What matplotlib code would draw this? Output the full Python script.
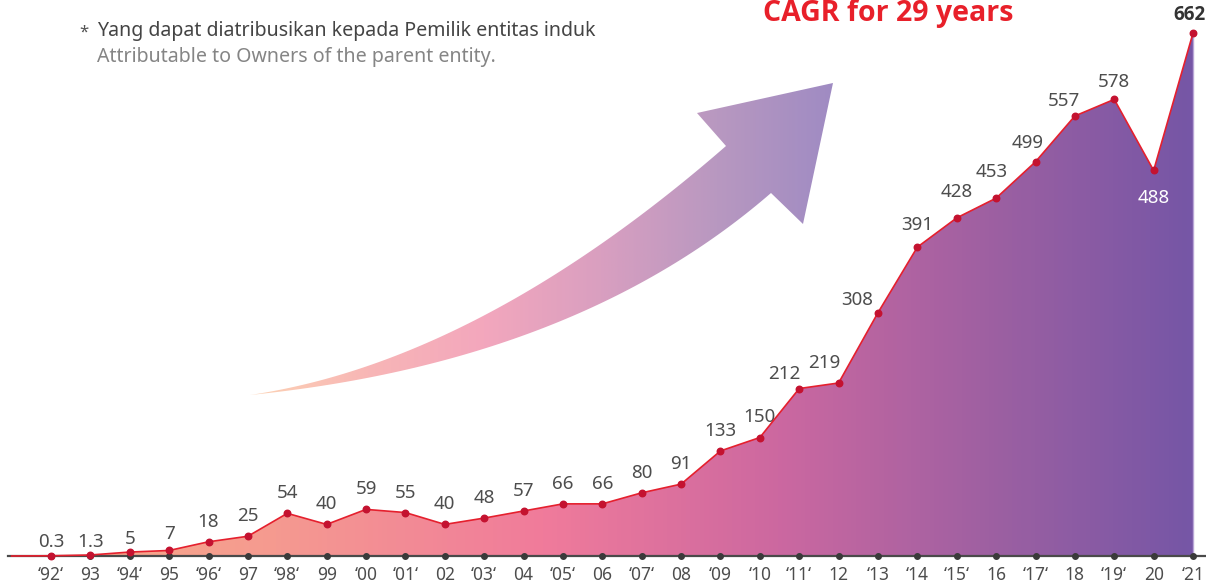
import numpy as np
import matplotlib.pyplot as plt
from matplotlib.colors import LinearSegmentedColormap
from matplotlib.patches import Polygon

plt.rcParams['font.family'] = ['Noto Sans', 'DejaVu Sans']

# data
years = ['‘92‘', '93', '‘94‘', '95', '‘96‘', '97', '‘98‘', '99', '‘00', '‘01‘',
         '02', '‘03‘', '04', '‘05‘', '06', '‘07‘', '08', '‘09', '‘10', '‘11‘',
         '12', '‘13', '‘14', '‘15‘', '16', '‘17‘', '18', '‘19‘', '20', '‘21']
values = [0.3, 1.3, 5, 7, 18, 25, 54, 40, 59, 55,
          40, 48, 57, 66, 66, 80, 91, 133, 150, 212,
          219, 308, 391, 428, 453, 499, 557, 578, 488, 662]
value_labels = ['0.3', '1.3', '5', '7', '18', '25', '54', '40', '59', '55',
                '40', '48', '57', '66', '66', '80', '91', '133', '150', '212',
                '219', '308', '391', '428', '453', '499', '557', '578', '488', '662']

# label nudges (pixels) for crowded spots
nudge = {0: (0, 14), 1: (0, 13), 2: (0, 13), 3: (0, 16), 19: (-15, 15), 20: (-14, 20),
         21: (-21, 13), 22: (0, 22), 23: (0, 26), 24: (-4, 26), 25: (-8, 19),
         26: (-11, 15), 27: (0, 17), 28: (0, -28), 29: (-4, 18)}

x = np.arange(len(values))
vals = np.array(values)

PX_PER_UNIT = 0.79
BASE_PX = 556

fig = plt.figure(figsize=(12.06, 5.84), dpi=100)

# decoration layer in pixel coords (big arrow + notes)
deco = fig.add_axes([0, 0, 1, 1])
deco.set_xlim(0, 1206)
deco.set_ylim(584, 0)
deco.axis('off')

def bez(p0, c, p2, n=80):
    t = np.linspace(0, 1, n)[:, None]
    return (1 - t) ** 2 * np.array(p0) + 2 * (1 - t) * t * np.array(c) + t ** 2 * np.array(p2)

upper = bez((250, 395), (479, 361), (726, 146))
lower = bez((250, 395), (576, 362), (771, 193))
head = np.array([[726, 146], [697, 113], [833, 83], [803, 224], [771, 193]])
arrow_pts = np.vstack([upper, head, lower[::-1]])
arrow_patch = Polygon(arrow_pts, closed=True, facecolor='none', edgecolor='none')
deco.add_patch(arrow_patch)
arrow_cmap = LinearSegmentedColormap.from_list(
    'arrow', ['#fdd3b4', '#f8b6b6', '#f3a7bd', '#d99fc0', '#b898c0', '#9f8bc3'])
grad = np.linspace(0, 1, 256)[None, :]
im = deco.imshow(grad, cmap=arrow_cmap, extent=(250, 835, 400, 80), aspect='auto', interpolation='bilinear')
im.set_clip_path(arrow_patch)

deco.text(79, 33, '*', fontsize=12, color='#555555', ha='left', va='center')
deco.text(97, 31, 'Yang dapat diatribusikan kepada Pemilik entitas induk',
          fontsize=14.1, color='#444444', ha='left', va='center')
deco.text(97, 57, 'Attributable to Owners of the parent entity.',
          fontsize=14.1, color='#858585', ha='left', va='center')
deco.text(888, 14, 'CAGR for 29 years', fontsize=20.5, color='#e8202a',
          fontweight='bold', family=['Open Sans', 'DejaVu Sans'], ha='center', va='center')

# data layer
ax = fig.add_axes([0, 0, 1, 1])
ax.patch.set_alpha(0)
ax.set_xlim(-51 / 39.38, (1206 - 51) / 39.38)
ax.set_ylim(-(584 - BASE_PX) / PX_PER_UNIT, BASE_PX / PX_PER_UNIT)
ax.axis('off')

# gradient area under the line
fx = np.concatenate([[-1], x, [x[-1]]])
fy = np.concatenate([[0], vals, [0]])
area = Polygon(np.column_stack([fx, fy]), closed=True, facecolor='none', edgecolor='none')
ax.add_patch(area)
area_cmap = LinearSegmentedColormap.from_list(
    'area', [(0, '#f8ae88'), (0.22, '#f59a90'), (0.45, '#f07b9b'),
             (0.65, '#cc68a0'), (0.85, '#995fa2'), (1, '#7656a6')])
im2 = ax.imshow(grad, cmap=area_cmap, extent=(-1, x[-1], 0, vals.max()),
                aspect='auto', interpolation='bilinear')
im2.set_clip_path(area)
ax.plot([x[-1], x[-1]], [0, vals[-1]], color='#b9a6d6', lw=1)

# baseline with tick dots
ax.plot([-1.09, 29.5], [0, 0], color='#4a4a4a', lw=1.6, zorder=3)
ax.scatter(x, np.zeros_like(x), s=16, color='#3a3a3a', zorder=4)

# line + points
ax.plot(np.concatenate([[-1], x]), np.concatenate([[0], vals]), color='#e5202e', lw=1.2, zorder=5)
ax.scatter(x, vals, s=22, color='#c41230', zorder=6)

for i, (v, lab) in enumerate(zip(vals, value_labels)):
    dx, dy = nudge.get(i, (0, 20))
    kw = dict(fontsize=13.5, color='#4d4d4d')
    if i == 28:
        kw['color'] = 'white'
    if i == 29:
        kw.update(color='#333333', fontweight='bold', family=['Open Sans', 'DejaVu Sans'])
    ax.annotate(lab, (x[i], v), xytext=(dx, dy), textcoords='offset pixels',
                ha='center', va='center', **kw)

tick_y = -(575 - BASE_PX) / PX_PER_UNIT
for i, yl in enumerate(years):
    ax.text(x[i], tick_y, yl, fontsize=12.5, color='#4d4d4d', ha='center', va='center')

fig.savefig('out.png', dpi=100)
